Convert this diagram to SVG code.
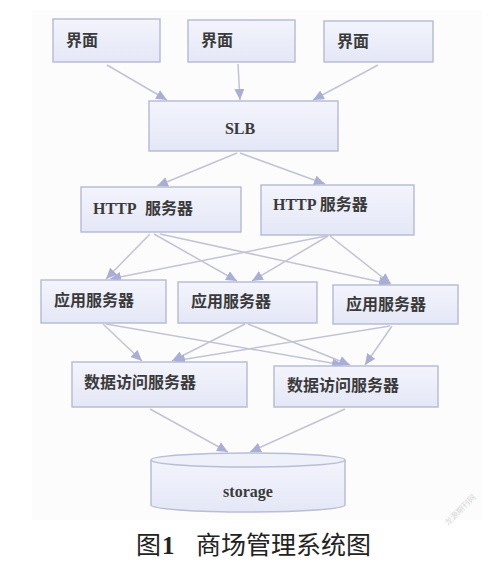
<svg xmlns="http://www.w3.org/2000/svg" width="499" height="570" viewBox="0 0 499 570">
<defs>
<linearGradient id="bg" x1="0" y1="0" x2="0" y2="1">
<stop offset="0" stop-color="#f3f4fc"/>
<stop offset="1" stop-color="#e4e7f6"/>
</linearGradient>
<marker id="ah" markerWidth="12" markerHeight="10" refX="11" refY="5" orient="auto" markerUnits="userSpaceOnUse">
<path d="M0,0 L11,5 L0,10 Z" fill="#aaaed6"/>
</marker>
<style>
.box{fill:url(#bg);stroke:#b9bdd6;stroke-width:1.5}
.lbl{font-family:"Liberation Serif","Noto Sans CJK SC",serif;font-size:16px;fill:#3a3a3a;font-weight:bold}
.ln{stroke:#c2c4d6;stroke-width:1.5;fill:none;marker-end:url(#ah)}
.cap{font-family:"Noto Sans CJK SC",sans-serif;font-size:25px;fill:#222}
</style>
</defs>
<rect x="0" y="0" width="499" height="570" fill="#ffffff"/>
<rect x="32" y="10" width="450" height="510" fill="#fcfcfd"/>
<g id="connectors">
<line class="ln" x1="107" y1="65" x2="167" y2="100"/>
<line class="ln" x1="238" y1="64" x2="240" y2="100"/>
<line class="ln" x1="378" y1="65" x2="313" y2="100"/>
<line class="ln" x1="237" y1="153" x2="157" y2="186"/>
<line class="ln" x1="240" y1="153" x2="325" y2="184"/>
<line class="ln" x1="150" y1="234" x2="106" y2="279"/>
<line class="ln" x1="154" y1="234" x2="237" y2="281"/>
<line class="ln" x1="160" y1="234" x2="390" y2="284"/>
<line class="ln" x1="326" y1="236" x2="110" y2="279"/>
<line class="ln" x1="328" y1="236" x2="252" y2="281"/>
<line class="ln" x1="330" y1="236" x2="391" y2="284"/>
<line class="ln" x1="103" y1="324" x2="142" y2="361"/>
<line class="ln" x1="106" y1="324" x2="343" y2="365"/>
<line class="ln" x1="245" y1="324" x2="172" y2="361"/>
<line class="ln" x1="248" y1="324" x2="350" y2="365"/>
<line class="ln" x1="390" y1="326" x2="174" y2="361"/>
<line class="ln" x1="392" y1="326" x2="365" y2="365"/>
<line class="ln" x1="150" y1="409" x2="228" y2="452"/>
<line class="ln" x1="345" y1="409" x2="250" y2="452"/>
</g>
<g id="ui1"><rect class="box" x="53" y="19" width="107" height="43"/><text class="lbl" x="66" y="46">界面</text></g>
<g id="ui2"><rect class="box" x="188" y="20" width="107" height="42"/><text class="lbl" x="201" y="46">界面</text></g>
<g id="ui3"><rect class="box" x="324" y="21" width="109" height="41"/><text class="lbl" x="337" y="47">界面</text></g>
<g id="slb"><rect class="box" x="149" y="101" width="189" height="50"/><text class="lbl" x="240" y="134" text-anchor="middle">SLB</text></g>
<g id="http1"><rect class="box" x="81" y="187" width="160" height="45"/><text class="lbl" x="93" y="214">HTTP<tspan x="145">服务器</tspan></text></g>
<g id="http2"><rect class="box" x="261" y="185" width="153" height="50"/><text class="lbl" x="273" y="210">HTTP 服务器</text></g>
<g id="app1"><rect class="box" x="41" y="280" width="125" height="43"/><text class="lbl" x="54" y="306">应用服务器</text></g>
<g id="app2"><rect class="box" x="178" y="282" width="139" height="41"/><text class="lbl" x="191" y="307">应用服务器</text></g>
<g id="app3"><rect class="box" x="333" y="285" width="125" height="39"/><text class="lbl" x="346" y="310">应用服务器</text></g>
<g id="dao1"><rect class="box" x="72" y="362" width="175" height="45"/><text class="lbl" x="84" y="388">数据访问服务器</text></g>
<g id="dao2"><rect class="box" x="274" y="366" width="164" height="41"/><text class="lbl" x="287" y="391">数据访问服务器</text></g>
<g id="storage">
<path d="M151,460 L151,505 A97,7 0 0 0 345,505 L345,460" fill="url(#bg)" stroke="#b9bdd6" stroke-width="1.5"/>
<ellipse cx="248" cy="460" rx="97" ry="7" fill="#eef0fa" stroke="#b9bdd6" stroke-width="1.5"/>
<text class="lbl" x="248" y="497" text-anchor="middle">storage</text>
</g>
<g id="caption">
<text class="cap" x="136" y="554">图</text>
<text x="162" y="554" font-family="'Liberation Serif',serif" font-size="25" font-weight="bold" fill="#222">1</text>
<text class="cap" x="196" y="554">商场管理系统图</text>
</g>
<text x="448" y="526" font-family="'Noto Sans CJK SC',sans-serif" font-size="8" fill="#d8d8d8" transform="rotate(-45 448 526)">龙源期刊网</text>
</svg>
